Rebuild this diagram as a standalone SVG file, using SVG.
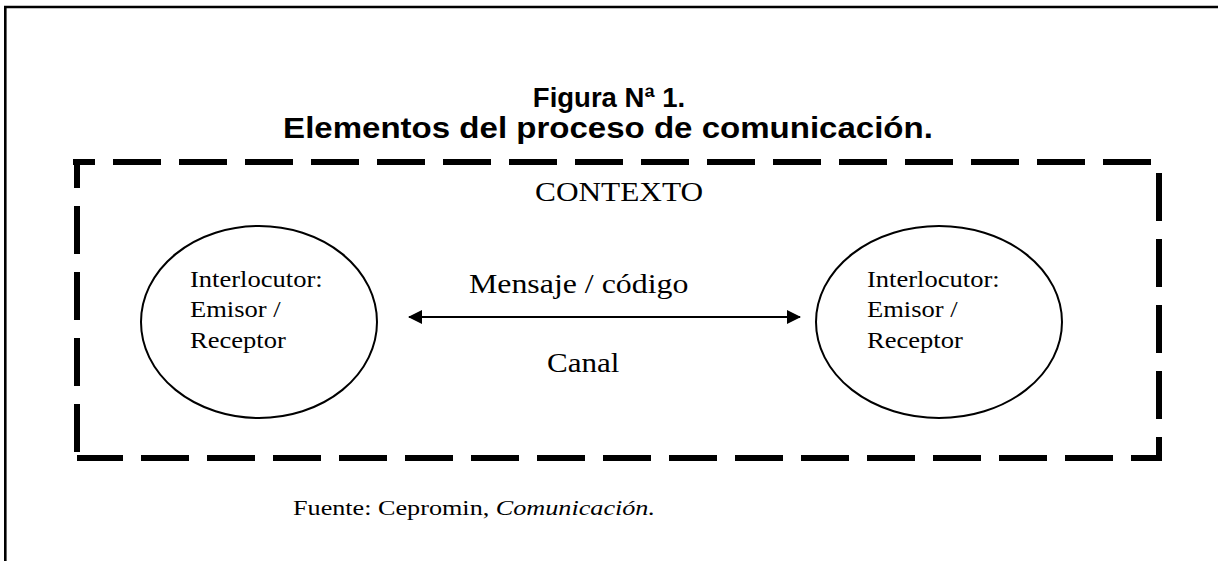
<svg xmlns="http://www.w3.org/2000/svg" width="1218" height="561" viewBox="0 0 1218 561">
<style>
.serif{font-family:"Liberation Serif","Times New Roman",serif;fill:#000}
.title{font-family:"Liberation Sans",Arial,sans-serif;font-weight:bold;fill:#000;text-anchor:middle}
.dash{fill:none;stroke:#000;stroke-width:6;stroke-dasharray:48 18;stroke-linecap:butt}
.node{fill:#fff;stroke:#000;stroke-width:2}
</style>
<defs>
<marker id="ah" viewBox="0 0 14 14" refX="13" refY="7" markerWidth="14" markerHeight="14" markerUnits="userSpaceOnUse" orient="auto-start-reverse">
<path d="M0 0 L14 7 L0 14 Z" fill="#000"/>
</marker>
</defs>
<rect width="1218" height="561" fill="#fff"/>
<g id="frame" stroke="#000" fill="none">
<path d="M5.3 561 V7 H1218" stroke-width="2.6"/>
</g>
<g id="title">
<text class="title" font-size="27.5" transform="translate(609 107)">Figura Nª 1.</text>
<text class="title" font-size="29.5" transform="translate(608 138) scale(1.12 1)">Elementos del proceso de comunicación.</text>
</g>
<g id="contexto">
<path class="dash" d="M73 162 H1152" stroke-dashoffset="26"/>
<path class="dash" d="M77 159 V461" stroke-dashoffset="19"/>
<path class="dash" d="M77 458 H1162" stroke-dashoffset="2"/>
<path class="dash" d="M1159 173 V461"/>
<text class="serif" transform="translate(535 201) scale(1.16 1)" font-size="27">CONTEXTO</text>
</g>
<g id="nodo-izquierdo">
<ellipse class="node" cx="259" cy="322" rx="118" ry="96"/>
<text class="serif" font-size="22.7" transform="translate(190 287) scale(1.17 1)">Interlocutor:</text>
<text class="serif" font-size="22.7" transform="translate(190 317) scale(1.17 1)">Emisor /</text>
<text class="serif" font-size="22.7" transform="translate(190 348) scale(1.17 1)">Receptor</text>
</g>
<g id="nodo-derecho">
<ellipse class="node" cx="939" cy="322" rx="123" ry="96"/>
<text class="serif" font-size="22.7" transform="translate(867 287) scale(1.17 1)">Interlocutor:</text>
<text class="serif" font-size="22.7" transform="translate(867 317) scale(1.17 1)">Emisor /</text>
<text class="serif" font-size="22.7" transform="translate(867 348) scale(1.17 1)">Receptor</text>
</g>
<g id="conectores">
<line x1="409" y1="317" x2="800" y2="317" stroke="#000" stroke-width="2" marker-start="url(#ah)" marker-end="url(#ah)"/>
<text class="serif" font-size="27" transform="translate(469 293) scale(1.18 1)">Mensaje / código</text>
<text class="serif" font-size="27" transform="translate(547 372) scale(1.15 1)">Canal</text>
</g>
<g id="fuente">
<text class="serif" font-size="22" transform="translate(293 515) scale(1.19 1)">Fuente: Cepromin, <tspan font-style="italic">Comunicación.</tspan></text>
</g>
</svg>
